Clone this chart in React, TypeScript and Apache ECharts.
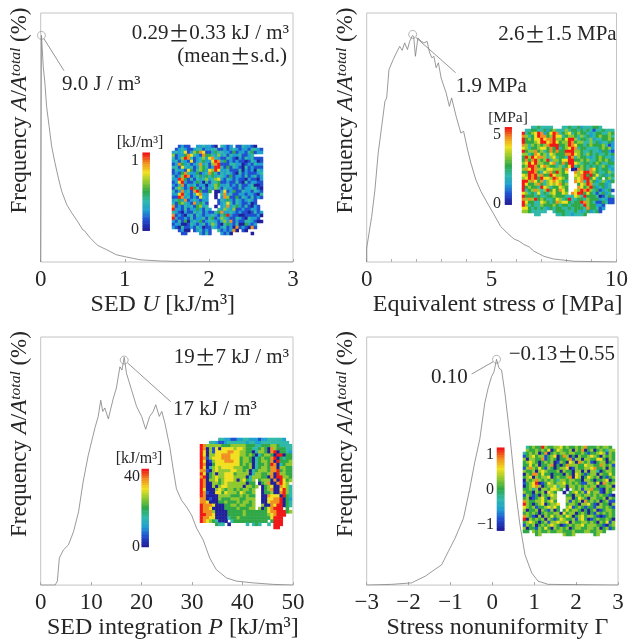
import React, { useEffect, useRef } from "react";
import * as echarts from "echarts";

const sedCurve = [[0,0],[0.009,91],[0.03,78.6],[0.05,71.9],[0.07,62.5],[0.1,54.5],[0.13,46.5],[0.17,39.8],[0.21,33.7],[0.25,28.4],[0.31,23],[0.37,19.7],[0.45,15.7],[0.5,12.9],[0.52,12.6],[0.59,9.6],[0.68,6.6],[0.78,5],[0.9,2.9],[1.02,2],[1.18,0.9],[1.42,0.4],[1.73,0.15],[2.3,0.05],[3,0]];
const stressCurve = [[0,0],[0,5.6],[0.2,18.3],[0.33,29],[0.46,43.8],[0.6,54.5],[0.73,64.5],[0.8,65.9],[0.89,77.2],[1.06,81.3],[1.19,84],[1.32,86.6],[1.42,85],[1.52,88],[1.63,85.3],[1.72,88.6],[1.83,90.9],[1.88,90.6],[1.95,82.6],[2.05,90],[2.19,88.6],[2.29,88],[2.42,88.6],[2.52,84],[2.61,82],[2.69,82.6],[2.78,78],[2.87,80],[2.98,73.9],[3.18,67.9],[3.31,62.5],[3.4,65.9],[3.58,58.5],[3.77,51.8],[3.88,52.5],[4.04,45],[4.17,39.8],[4.37,33],[4.57,28.4],[4.83,23.7],[5.1,19],[5.36,14.3],[5.63,11.6],[5.9,9.2],[6.1,8.4],[6.3,7],[6.5,6.1],[6.7,4.3],[7.09,2.3],[7.48,1.2],[8.3,0.3],[10,0]];
const integrationCurve = [[0,0],[2.84,0],[3.3,1.6],[3.7,10.9],[4.5,14.2],[5.5,16.2],[6.5,21.5],[7.5,29.5],[8.4,41.5],[9.4,52.1],[10.75,63.4],[11.4,68],[11.9,74.5],[12.3,70],[12.7,71.4],[13.4,67],[14.4,75.4],[15,79.4],[15.7,88],[16.1,86.7],[16.55,91.8],[17,85.4],[18,78.7],[19,72],[20,68],[20.8,62.8],[21.6,68],[22.3,70],[22.8,72.7],[23.5,68],[24,70],[24.6,65.4],[25.6,55.5],[26.25,46.8],[26.9,38.8],[27.9,34.2],[28.9,31.5],[29.9,28.2],[30.9,22.9],[32.2,18.2],[33.5,10.9],[34.8,6.25],[36.8,2.9],[38.8,1.6],[42.1,0.9],[46,0.3],[50,0]];
const nonuniformityCurve = [[-3,0],[-2.4,0.3],[-1.93,0.9],[-1.6,3.6],[-1.21,8.2],[-1.05,13.6],[-0.89,18.9],[-0.69,26.9],[-0.54,38.8],[-0.42,49.5],[-0.3,58.8],[-0.18,73.4],[-0.1,79.4],[-0.02,84],[0.04,86],[0.1,91],[0.16,87.4],[0.22,86.7],[0.3,77.4],[0.42,60],[0.54,40],[0.66,24.2],[0.78,12.2],[0.94,4.9],[1.09,1.6],[1.33,0.3],[3,0]];

const sedPeak = [[0.009, 91]];
const stressPeak = [[1.84, 91.4]];
const integrationPeak = [[16.55, 90.7]];
const nonuniformityPeak = [[0.1, 91]];

const colorSteps = [0,0.25,0.5,0.75,1,1.25,1.5,1.75,2,2.25,2.5,2.75,3,3.25,3.5,3.75,4,4.25,4.5,4.75,5,5.25,5.5,5.75,6,6.25,6.5,6.75,7,7.25,7.5,7.75,8];

const sedMap = [
  "..1211..2232210.3212.1132210..",
  ".12321123312233112123212213321",
  "232361254761124332214122134122",
  "512247632174432523132231123...",
  "312587312352673211321021323111",
  "231321612342268724121211013201",
  "127423123723157811133220121322",
  "331632312543128831413210312111",
  "132216413542658622311130212032",
  "121473224123743132321031211123",
  "312587123424342332141221312312",
  "228741313235235621321211021102",
  "126821124203133411211310312211",
  "213713231220235422312131123001",
  "135312843131325313221131223310",
  "3127231784114.0026124113221321",
  "226832136722..0.37231122122103",
  "118723121632..0.27511413213121",
  "234271232122...1324213212321..",
  "314532172431...1236313211201..",
  "712132314523..0.2372342131021.",
  "8221312242132..32532511211221.",
  "321021132312113472232121101312",
  "712102313212232134821100111120",
  "82112131223134125321132103221.",
  "213140232412332135271211332100",
  "1220013212312531034213004212..",
  "2103112132011321231207121071..",
  "..1200.123121..3121270.10.....",
  "...11....2131...2120......0...",
];
const stressMap = [
  "...3343333...3343342333443....",
  ".33443342453335344343431334333",
  "834568724687345634544323443354",
  "753468774586634554353423454453",
  "845466867785546885344352334454",
  "844456886786455874553353423342",
  "753545457888445876443454445312",
  "653445664748345687344333345452",
  "845574534747448885543343324421",
  "553476453654447786543543433434",
  "485867753563443873544323454332",
  "474785458355466884454533454542",
  "568685544673474886534434543344",
  "458874675443534683454343435423",
  "576875546655547.00754376434432",
  "448874365748546..7568875433453",
  "658785744865544..6578484634234",
  "568784866587654..567884634.453",
  "885764735676543..7673854235324",
  "864457435656745...46587334423.",
  "845443865344654...76458423423.",
  "834575358464764..6587853412341",
  "653436343564465.7688464313423.",
  "844434334454443336538444301343",
  "757584543346534833443544423211",
  "864433654347566434487543114311",
  "853433544454344344438544221...",
  "664343432434433434443744312...",
  "55433333..3444333432342341....",
  "....33.....3343323334.........",
];
const integrationMap = [
  "......3322112233222122333332..",
  "...33211233333323322333333333.",
  "875555544455555444334445543333",
  "870516066665665443345407544433",
  "860516666776655440355407804432",
  "860556677766655454034554088044",
  "871566677766645540345447804344",
  "860156667776645540345547084445",
  "870046666666645450344548703455",
  "860356566665554450345547705544",
  "771056555566554503455547784544",
  "860450556664555503554457085544",
  "780456556665555035554407088554",
  "870556456665056435.45550708645",
  "870055456555555044.0457007865.",
  "8700505665555505545.0456007653",
  "860005654554545545..0457006853",
  "871006646555465445..0445007853",
  "870000555544454544..0076660843",
  "770100544455544555..0066778042",
  "776000445444545545..0067778043",
  "877760004455455445..5007688043",
  "877600004444544455.50467888.4.",
  "877750000444445444444467788845",
  "8877600004444454444444567888..",
  "877660000344544444444446888...",
  "876543000.344444444444.4888...",
  ".....433.0.....3.343..3.888...",
  "........................88....",
  "..............................",
];
const nonuniformityMap = [
  ".3454485445564544545744454554.",
  ".54454546046544505470450454355",
  "345450470454554554454144565154",
  "145645514560475040544565405454",
  "505544714540445715505544664054",
  "456540454501540650754510455045",
  "446450445704047555446554475451",
  "157546415404556015445567445054",
  "544505654445054405505055304554",
  "054774644044405406541455054464",
  "456054556045445706504654504145",
  "054575454543554554405540445604",
  "145680146545564545411554607545",
  "045675045563550554545455044550",
  "4453505546654.0.54515574410545",
  "54405450654..0.45645164551054",
  "15414054565...4405545545454410",
  "45014564055...5504654055445054",
  "75445564564...5154507454504511",
  "854045604556..4554055641054405",
  "654514456564..5614541441554541",
  "504450541504.46455404045014554",
  "454540454455064550454041545454",
  "754105054645546504564554101454",
  "805454505414654451564014544540",
  "456540451556556054455454054615",
  "154504545654014545564555441045",
  "504415464054545045544554504514",
  "44.545445445544454445544554...",
  "....45.......5445......45.....",
];

const sedBar = ["0", "1"];
const stressBar = ["0", "5"];
const integrationBar = ["0", "40"];
const nonuniformityBar = ["−1", "0", "1"];

const SERIF = "'Liberation Serif', 'Times New Roman', serif";
const CJK = "'Noto Sans CJK JP'";
const INK = "#262626";
const FRAME = "#c4c4c4";
const RAMP = ["#20209a", "#2050d0", "#20a0d0", "#30b8a8", "#30a848", "#90c830", "#f0e020", "#f09020", "#f01818"];

const rich = {
  i: { fontStyle: "italic", fontFamily: SERIF, fontSize: 24, color: INK },
  y: { fontStyle: "italic", fontFamily: SERIF, fontSize: 23, color: INK },
  s: { fontStyle: "italic", fontFamily: SERIF, fontSize: 15.5, color: INK, verticalAlign: "top" },
  p: { fontFamily: CJK, fontSize: 21, color: INK, lineHeight: 20 },
};

function rows(m: string[]) {
  const out: number[][] = [];
  m.forEach((r, y) => {
    r.split("").forEach((c, x) => {
      if (c !== ".") out.push([x, y, Number(c)]);
    });
  });
  return out;
}

function buildOption() {
  const grid: any[] = [];
  const xAxis: any[] = [];
  const yAxis: any[] = [];
  const series: any[] = [];
  const heatIdx: number[] = [];

  const panels = [
    { l: 40.7, t: 13, w: 252.3, h: 249, min: 0, max: 3, interval: 1, minor: 0, curve: sedCurve, peak: sedPeak,
      name: "SED {i|U} [kJ/m³]", shift: -4, gap: 26 },
    { l: 366.7, t: 13, w: 251.3, h: 249, min: 0, max: 10, interval: 5, minor: 5, curve: stressCurve, peak: stressPeak,
      name: "Equivalent stress σ [MPa]", shift: 6, gap: 26 },
    { l: 40.7, t: 337, w: 252.3, h: 250, min: 0, max: 50, interval: 10, minor: 0, curve: integrationCurve, peak: integrationPeak,
      name: "SED integration {i|P} [kJ/m³]", shift: 6, gap: 22 },
    { l: 366.7, t: 337, w: 251.3, h: 250, min: -3, max: 3, interval: 1, minor: 0, curve: nonuniformityCurve, peak: nonuniformityPeak,
      name: "Stress nonuniformity Γ", shift: 5, gap: 22 },
  ];

  panels.forEach((p) => {
    const g = grid.length;
    grid.push({ left: p.l, top: p.t, width: p.w, height: p.h, show: true, borderColor: FRAME, borderWidth: 1, backgroundColor: "#fff" });
    xAxis.push({
      gridIndex: g, type: "value", min: p.min, max: p.max, interval: p.interval,
      name: p.name, nameLocation: "middle", nameGap: p.gap,
      nameTextStyle: { fontFamily: SERIF, fontSize: 24, color: INK, rich, verticalAlign: "top", padding: [0, 0, 0, p.shift * 2] },
      axisLine: { show: false },
      axisTick: { show: true, inside: true, length: 3, lineStyle: { color: "#a8a8a8", width: 1 } },
      minorTick: p.minor ? { show: true, splitNumber: p.minor, length: 3, lineStyle: { color: "#b0b0b0" } } : { show: false },
      splitLine: { show: false },
      axisLabel: {
        fontFamily: SERIF, fontSize: 23, color: INK, margin: 5, hideOverlap: false,
        formatter: (v: number) => (v < 0 ? "−" + Math.abs(v) : String(v)),
      },
    });
    yAxis.push({
      gridIndex: g, type: "value", min: 0, max: 100,
      name: "Frequency {y|A}/{y|A}{s|total} (%)", nameLocation: "middle", nameGap: 11, nameRotate: 90,
      nameTextStyle: { fontFamily: SERIF, fontSize: 23, color: INK, rich, padding: [0, 0, 0, 54] },
      axisLine: { show: false }, axisTick: { show: false }, axisLabel: { show: false }, splitLine: { show: false },
    });
    series.push({
      type: "line", xAxisIndex: g, yAxisIndex: g, data: p.curve, showSymbol: false, silent: true,
      lineStyle: { color: "#808080", width: 0.8 },
    });
    series.push({
      type: "scatter", xAxisIndex: g, yAxisIndex: g, data: p.peak, symbol: "circle", symbolSize: 8, silent: true,
      itemStyle: { color: "rgba(255,255,255,0)", borderColor: "#8a8a8a", borderWidth: 0.8 },
    });
  });

  const heat = (l: number, t: number, w: number, h: number, data: number[][]) => {
    const g = grid.length;
    const nx = Math.max(...data.map((d) => d[0])) + 1;
    const ny = Math.max(...data.map((d) => d[1])) + 1;
    grid.push({ left: l, top: t, width: w, height: h, show: false });
    xAxis.push({ gridIndex: g, type: "category", data: Array.from({ length: nx }, (_, i) => i), show: false });
    yAxis.push({ gridIndex: g, type: "category", inverse: true, data: Array.from({ length: ny }, (_, i) => i), show: false });
    heatIdx.push(series.length);
    series.push({ type: "heatmap", xAxisIndex: g, yAxisIndex: g, data, silent: true, itemStyle: { borderWidth: 0 } });
  };

  const bar = colorSteps.slice().reverse().map((v, i) => [0, i, v]);
  heat(172, 145, 91, 90, rows(sedMap));
  heat(142.7, 152.7, 7, 78, bar);
  heat(522, 126, 92.3, 90, rows(stressMap));
  heat(505, 127.3, 6.7, 77.4, bar);
  heat(200, 438, 92, 91, rows(integrationMap));
  heat(141.7, 469, 7, 78, bar);
  heat(523, 446, 92, 90, rows(nonuniformityMap));
  heat(497, 447.7, 7.3, 83, bar);

  const txt = (x: number, y: number, text: string, align = "left", size = 21) => ({
    type: "text", x, y, silent: true,
    style: { text, x: 0, y: 0, align, verticalAlign: "middle", fontFamily: SERIF, fontSize: size, fill: INK, rich },
  });
  const seg = (x1: number, y1: number, x2: number, y2: number) => ({
    type: "line", silent: true, shape: { x1, y1, x2, y2 }, style: { stroke: "#7a7a7a", lineWidth: 0.8 },
  });

  const graphic = [
    seg(43.7, 38.3, 64, 70.7),
    seg(415.7, 37.3, 455.7, 72.7),
    seg(127.3, 362.7, 170.7, 401.7),
    seg(493.3, 361.7, 471.7, 374),
    txt(289, 32, "0.29{p|±}0.33 kJ / m³", "right"),
    txt(287, 55, "(mean{p|±}s.d.)", "right"),
    txt(62, 83, "9.0 J / m³"),
    txt(616.7, 33, "2.6{p|±}1.5 MPa", "right"),
    txt(455.7, 85, "1.9 MPa"),
    txt(289, 356, "19{p|±}7 kJ / m³", "right"),
    txt(173, 408, "17 kJ / m³"),
    txt(615, 353, "−0.13{p|±}0.55", "right"),
    txt(431, 376, "0.10"),
    txt(140, 141, "[kJ/m³]", "center", 16),
    txt(139, 159, sedBar[1], "right", 16),
    txt(139, 228, sedBar[0], "right", 16),
    txt(508, 116, "[MPa]", "center", 15.5),
    txt(501, 133, stressBar[1], "right", 16),
    txt(501, 202, stressBar[0], "right", 16),
    txt(139, 457, "[kJ/m³]", "center", 16),
    txt(140, 475, integrationBar[1], "right", 16),
    txt(140, 545, integrationBar[0], "right", 16),
    txt(494, 453, nonuniformityBar[2], "right", 16),
    txt(494, 488, nonuniformityBar[1], "right", 16),
    txt(494, 523, nonuniformityBar[0], "right", 16),
  ];

  return {
    animation: false,
    backgroundColor: "#ffffff",
    grid, xAxis, yAxis, series, graphic,
    visualMap: { type: "continuous", show: false, min: 0, max: 8, seriesIndex: heatIdx, calculable: false, inRange: { color: RAMP } },
  };
}

export default function App() {
  const ref = useRef<HTMLDivElement>(null);
  useEffect(() => {
    const chart = echarts.init(ref.current!, undefined, { renderer: "svg" });
    chart.setOption(buildOption() as any);
    return () => chart.dispose();
  }, []);
  return <div ref={ref} style={{ position: "fixed", left: 0, top: 0, width: 631, height: 639, filter: "blur(0.4px)" }} />;
}
